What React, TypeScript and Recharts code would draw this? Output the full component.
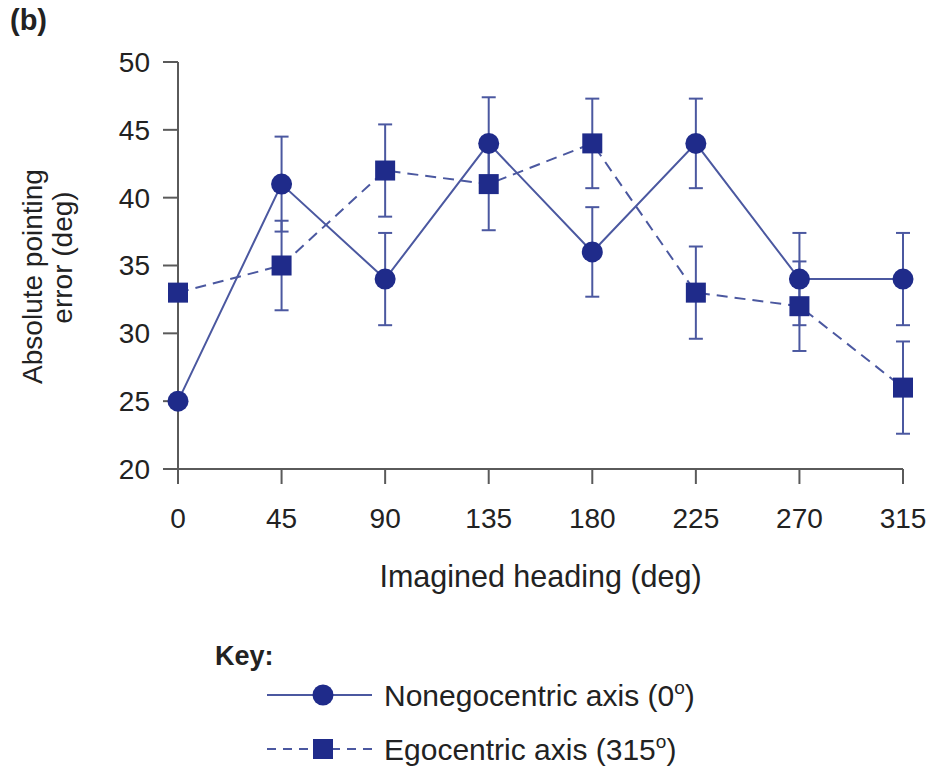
import { LineChart, Line, XAxis, YAxis, ErrorBar, Label } from 'recharts';

const headings = [0, 45, 90, 135, 180, 225, 270, 315];
const nonego = [25, 41, 34, 44, 36, 44, 34, 34];
const nonegoErr = [0, 3.5, 3.4, 3.4, 3.3, 3.3, 3.4, 3.4];
const ego = [33, 35, 42, 41, 44, 33, 32, 26];
const egoErr = [0, 3.3, 3.4, 3.4, 3.3, 3.4, 3.3, 3.4];
const yTicks = [20, 25, 30, 35, 40, 45, 50];

const data = headings.map((h, i) => ({
  heading: h,
  nonego: nonego[i],
  nonegoErr: nonegoErr[i],
  ego: ego[i],
  egoErr: egoErr[i],
}));

const FONT = '"Liberation Sans", Arial, sans-serif';
const LINE = '#4b58a0';
const MARK = '#1f2b8a';
const AXIS = '#5a5a5a';
const TEXT = '#222';

const Square = (props: any) => {
  const { cx, cy, index } = props;
  if (cx == null || cy == null) return null;
  return <rect key={`sq-${index}`} x={cx - 10} y={cy - 10} width={20} height={20} fill={MARK} />;
};

const Circle = (props: any) => {
  const { cx, cy, index } = props;
  if (cx == null || cy == null) return null;
  return <circle key={`ci-${index}`} cx={cx} cy={cy} r={10.5} fill={MARK} />;
};

export default function App() {
  return (
    <div style={{ position: 'absolute', left: 0, top: 0, width: 935, height: 769, background: '#fff' }}>
      <div
        style={{
          position: 'absolute',
          left: 10,
          top: 4,
          fontFamily: FONT,
          fontWeight: 'bold',
          fontSize: 29,
          color: TEXT,
        }}
      >
        (b)
      </div>
      <LineChart
        width={935}
        height={769}
        data={data}
        margin={{ top: 62, right: 32, left: 0, bottom: 170 }}
      >
        <XAxis
          dataKey="heading"
          type="number"
          domain={[0, 315]}
          ticks={headings}
          height={130}
          stroke={AXIS}
          strokeWidth={2}
          tickSize={15}
          tickMargin={24}
          tick={{ fill: TEXT, fontSize: 28, fontFamily: FONT }}
          tickLine={{ stroke: AXIS, strokeWidth: 2 }}
        >
          <Label
            content={({ viewBox }: any) => (
              <text
                x={viewBox.x + viewBox.width / 2}
                y={viewBox.y + 118}
                textAnchor="middle"
                fill={TEXT}
                fontSize={30.5}
                fontFamily={FONT}
              >
                Imagined heading (deg)
              </text>
            )}
          />
        </XAxis>
        <YAxis
          type="number"
          domain={[20, 50]}
          ticks={yTicks}
          width={178}
          stroke={AXIS}
          strokeWidth={2}
          tickSize={15}
          tickMargin={13}
          tick={{ fill: TEXT, fontSize: 28, fontFamily: FONT }}
          tickLine={{ stroke: AXIS, strokeWidth: 2 }}
        >
          <Label
            content={({ viewBox }: any) => {
              const cy1 = viewBox.y + viewBox.height / 2 + 11;
              const cy2 = viewBox.y + viewBox.height / 2 - 8;
              return (
                <g fill={TEXT} fontSize={28} fontFamily={FONT}>
                  <text x={42} y={cy1} textAnchor="middle" transform={`rotate(-90 42 ${cy1})`}>
                    Absolute pointing
                  </text>
                  <text x={72} y={cy2} textAnchor="middle" transform={`rotate(-90 72 ${cy2})`}>
                    error (deg)
                  </text>
                </g>
              );
            }}
          />
        </YAxis>
        <Line
          dataKey="ego"
          stroke={LINE}
          strokeWidth={2}
          strokeDasharray="11 7"
          dot={<Square />}
          activeDot={false}
          isAnimationActive={false}
        >
          <ErrorBar dataKey="egoErr" width={7} stroke={LINE} strokeWidth={2} />
        </Line>
        <Line
          dataKey="nonego"
          stroke={LINE}
          strokeWidth={2}
          dot={<Circle />}
          activeDot={false}
          isAnimationActive={false}
        >
          <ErrorBar dataKey="nonegoErr" width={7} stroke={LINE} strokeWidth={2} />
        </Line>
      </LineChart>
      <svg
        width={935}
        height={150}
        style={{ position: 'absolute', left: 0, top: 620 }}
        fontFamily={FONT}
      >
        <text x={215} y={45} fontSize={27} fontWeight="bold" fill={TEXT}>
          Key:
        </text>
        <line x1={267} x2={372} y1={75} y2={75} stroke={LINE} strokeWidth={2} />
        <circle cx={323} cy={75} r={10.5} fill={MARK} />
        <text x={384} y={86} fontSize={30} fill={TEXT}>
          Nonegocentric axis (0<tspan dy={-12} fontSize={19}>o</tspan>
          <tspan dy={12}>)</tspan>
        </text>
        <line x1={267} x2={372} y1={129} y2={129} stroke={LINE} strokeWidth={2} strokeDasharray="9 7" />
        <rect x={313} y={119} width={20} height={20} fill={MARK} />
        <text x={384} y={140} fontSize={30} fill={TEXT}>
          Egocentric axis (315<tspan dy={-12} fontSize={19}>o</tspan>
          <tspan dy={12}>)</tspan>
        </text>
      </svg>
    </div>
  );
}
